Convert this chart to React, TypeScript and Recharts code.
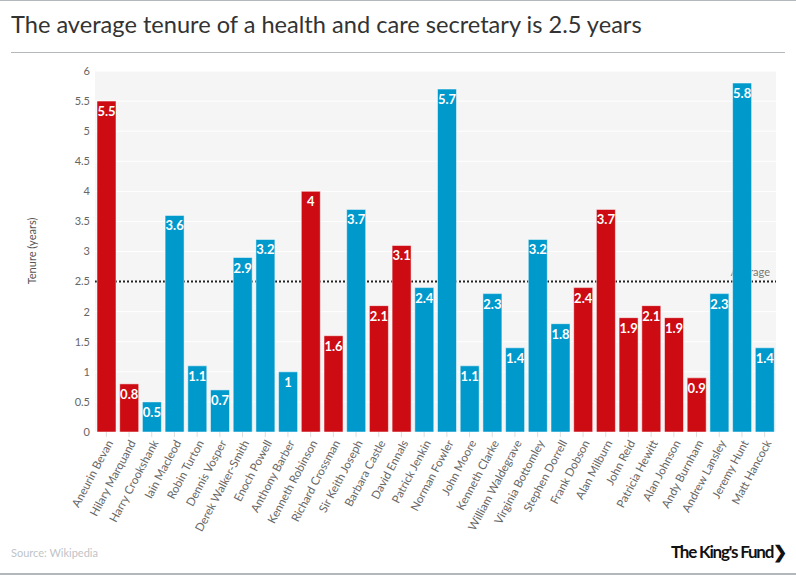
import { BarChart, Bar, XAxis, YAxis, CartesianGrid, ReferenceLine, Cell, LabelList } from 'recharts'

const secretaries = [
  'Aneurin Bevan', 'Hilary Marquand', 'Harry Crookshank', 'Iain Macleod', 'Robin Turton',
  'Dennis Vosper', 'Derek Walker-Smith', 'Enoch Powell', 'Anthony Barber', 'Kenneth Robinson',
  'Richard Crossman', 'Sir Keith Joseph', 'Barbara Castle', 'David Ennals', 'Patrick Jenkin',
  'Norman Fowler', 'John Moore', 'Kenneth Clarke', 'William Waldegrave', 'Virginia Bottomley',
  'Stephen Dorrell', 'Frank Dobson', 'Alan Milburn', 'John Reid', 'Patricia Hewitt',
  'Alan Johnson', 'Andy Burnham', 'Andrew Lansley', 'Jeremy Hunt', 'Matt Hancock',
]
const tenureYears = [
  5.5, 0.8, 0.5, 3.6, 1.1, 0.7, 2.9, 3.2, 1, 4,
  1.6, 3.7, 2.1, 3.1, 2.4, 5.7, 1.1, 2.3, 1.4, 3.2,
  1.8, 2.4, 3.7, 1.9, 2.1, 1.9, 0.9, 2.3, 5.8, 1.4,
]
const parties = [
  'lab', 'lab', 'con', 'con', 'con', 'con', 'con', 'con', 'con', 'lab',
  'lab', 'con', 'lab', 'lab', 'con', 'con', 'con', 'con', 'con', 'con',
  'con', 'lab', 'lab', 'lab', 'lab', 'lab', 'lab', 'con', 'con', 'con',
]
const yTicks = [0, 0.5, 1, 1.5, 2, 2.5, 3, 3.5, 4, 4.5, 5, 5.5, 6]
const averageTenure = 2.5

const RED = '#cc0b13'
const BLUE = '#0099cc'
const FONT = 'Lato, "Open Sans", sans-serif'

const data = secretaries.map((name, i) => ({
  name,
  tenure: tenureYears[i],
  party: parties[i],
}))

function NameTick({ x, y, payload }: any) {
  return (
    <g transform={`translate(${x},${y})`}>
      <text
        x={0}
        y={0}
        dy={8}
        textAnchor="end"
        transform="rotate(-62)"
        fontSize={11.5}
        fill="#666"
        fontFamily={FONT}
      >
        {payload.value}
      </text>
    </g>
  )
}

function ValueLabel({ x, y, width, value }: any) {
  return (
    <text
      x={x + width / 2}
      y={y + 10}
      textAnchor="middle"
      dominantBaseline="central"
      fontSize={13}
      fontWeight="bold"
      fill="#fff"
      fontFamily={FONT}
    >
      {value}
    </text>
  )
}

function AverageLabel({ viewBox }: any) {
  return (
    <text
      x={viewBox.x + viewBox.width - 6}
      y={viewBox.y - 6}
      textAnchor="end"
      fontSize={11}
      fill="#777"
      fontFamily={FONT}
    >
      Average
    </text>
  )
}

export default function App() {
  return (
    <div
      style={{
        position: 'fixed',
        left: 0,
        top: 0,
        width: 796,
        height: 575,
        background: '#fff',
        fontFamily: FONT,
        borderTop: '1px solid #b3b8bd',
        borderBottom: '2px solid #b3b8bd',
        boxSizing: 'border-box',
        overflow: 'hidden',
      }}
    >
      <div style={{ position: 'absolute', left: 11, top: 9, fontSize: 23.6, color: '#333' }}>
        The average tenure of a health and care secretary is 2.5 years
      </div>
      <div style={{ position: 'absolute', left: 11, right: 11, top: 51, borderTop: '1px solid #b3b8bd' }} />
      <div
        style={{
          position: 'absolute',
          left: 31,
          top: 250,
          fontSize: 11,
          color: '#555',
          whiteSpace: 'nowrap',
          transform: 'translate(-50%, -50%) rotate(-90deg)',
        }}
      >
        Tenure (years)
      </div>
      <div style={{ position: 'absolute', top: 59, left: 0 }}>
        <BarChart
          width={796}
          height={480}
          data={data}
          margin={{ top: 11, right: 20, left: 0, bottom: 0 }}
          barCategoryGap={2}
        >
          <CartesianGrid vertical={false} stroke="#fff" fill="#f5f5f5" />
          <YAxis
            domain={[0, 6]}
            ticks={yTicks}
            width={95}
            axisLine={false}
            tickLine={false}
            tickSize={0}
            tickMargin={5}
            tick={{ fontSize: 11, fill: '#666', fontFamily: FONT }}
          />
          <XAxis
            dataKey="name"
            interval={0}
            height={108}
            axisLine={false}
            tickLine={{ stroke: '#ddd' }}
            tickSize={5}
            tick={<NameTick />}
          />
          {/* average line sits underneath the bars */}
          <ReferenceLine
            y={averageTenure}
            stroke="#222"
            strokeWidth={2}
            strokeDasharray="2 2"
            zIndex={100}
            label={<AverageLabel />}
          />
          <Bar dataKey="tenure" isAnimationActive={false} stroke="#fff" strokeOpacity={0.5}>
            {data.map((d) => (
              <Cell key={d.name} fill={d.party === 'lab' ? RED : BLUE} />
            ))}
            <LabelList dataKey="tenure" content={<ValueLabel />} />
          </Bar>
        </BarChart>
      </div>
      <div style={{ position: 'absolute', left: 11, top: 545, fontSize: 11, color: '#c0c4c8' }}>
        Source: Wikipedia
      </div>
      <div
        style={{
          position: 'absolute',
          right: 10,
          top: 540,
          fontSize: 17,
          fontWeight: 'bold',
          color: '#111',
          letterSpacing: -1.2,
        }}
      >
        The King's Fund&#x276F;
      </div>
    </div>
  )
}
